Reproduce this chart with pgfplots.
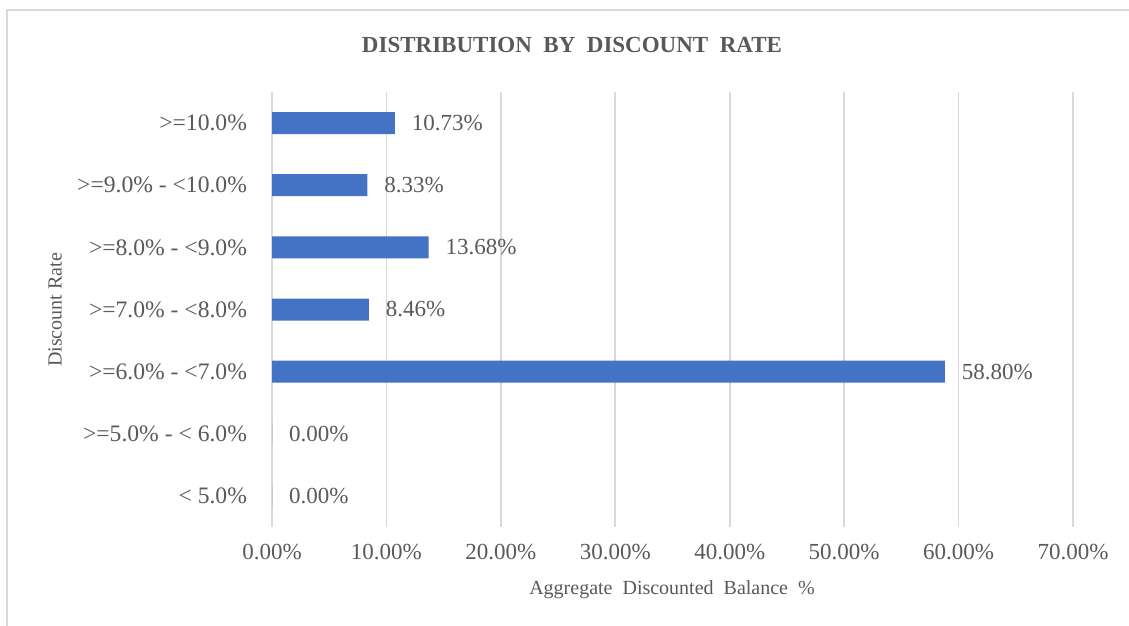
\documentclass[border=0pt]{standalone}
\usepackage{fontspec}
\setmainfont{Liberation Serif}
\usepackage{pgfplots}
\pgfplotsset{compat=1.18}
\definecolor{barblue}{HTML}{4472C4}
\definecolor{txt}{HTML}{595959}
\definecolor{gridc}{HTML}{D9D9D9}
\begin{document}
\begin{tikzpicture}
\path[use as bounding box] (0,0) rectangle (564.5pt,313pt);
\draw[gridc, line width=0.8pt] (3.5pt,0) -- (3.5pt,308pt) -- (564.5pt,308pt);
\begin{axis}[
  at={(136pt,49.5pt)}, anchor=south west,
  scale only axis, width=400.5pt, height=217.5pt,
  xbar, bar width=11pt,
  xmin=0, xmax=70, ymin=-0.5, ymax=6.5,
  xtick={0,10,...,70},
  ytick={0,...,6},
  yticklabels={{< 5.0\%},{>=5.0\% - < 6.0\%},{>=6.0\% - <7.0\%},{>=7.0\% - <8.0\%},{>=8.0\% - <9.0\%},{>=9.0\% - <10.0\%},{>=10.0\%}},
  xticklabel={\pgfmathprintnumber[fixed,fixed zerofill,precision=2]{\tick}\%},
  /pgf/number format/assume math mode=true,
  xmajorgrids, major grid style={gridc, line width=0.8pt},
  axis line style={draw=none},
  major tick length=0pt,
  tick label style={font=\fontsize{11.5}{13}\selectfont, text=txt},
  yticklabel style={font=\fontsize{11.8}{13}\selectfont, xshift=-9pt},
  xticklabel style={yshift=-5pt},
  point meta=x,
  nodes near coords={\pgfmathprintnumber[fixed,fixed zerofill,precision=2]{\pgfplotspointmeta}\%},
  nodes near coords style={font=\fontsize{11.5}{13}\selectfont, text=txt, anchor=west, xshift=5pt},
  clip=false,
]
\addplot[fill=barblue, draw=none] coordinates {
(0,0) (0,1) (58.80,2) (8.46,3) (13.68,4) (8.33,5) (10.73,6)};
\end{axis}
\node[font=\bfseries\fontsize{11.5}{13}\selectfont, text=txt] at (286pt,290.5pt) {DISTRIBUTION\ \ BY\ \ DISCOUNT\ \ RATE};
\node[font=\fontsize{10}{12}\selectfont, text=txt, rotate=90] at (27.5pt,158pt) {Discount Rate};
\node[font=\fontsize{10}{12}\selectfont, text=txt] at (336pt,18pt) {Aggregate\ \ Discounted\ \ Balance\ \ \%};
\end{tikzpicture}
\end{document}
